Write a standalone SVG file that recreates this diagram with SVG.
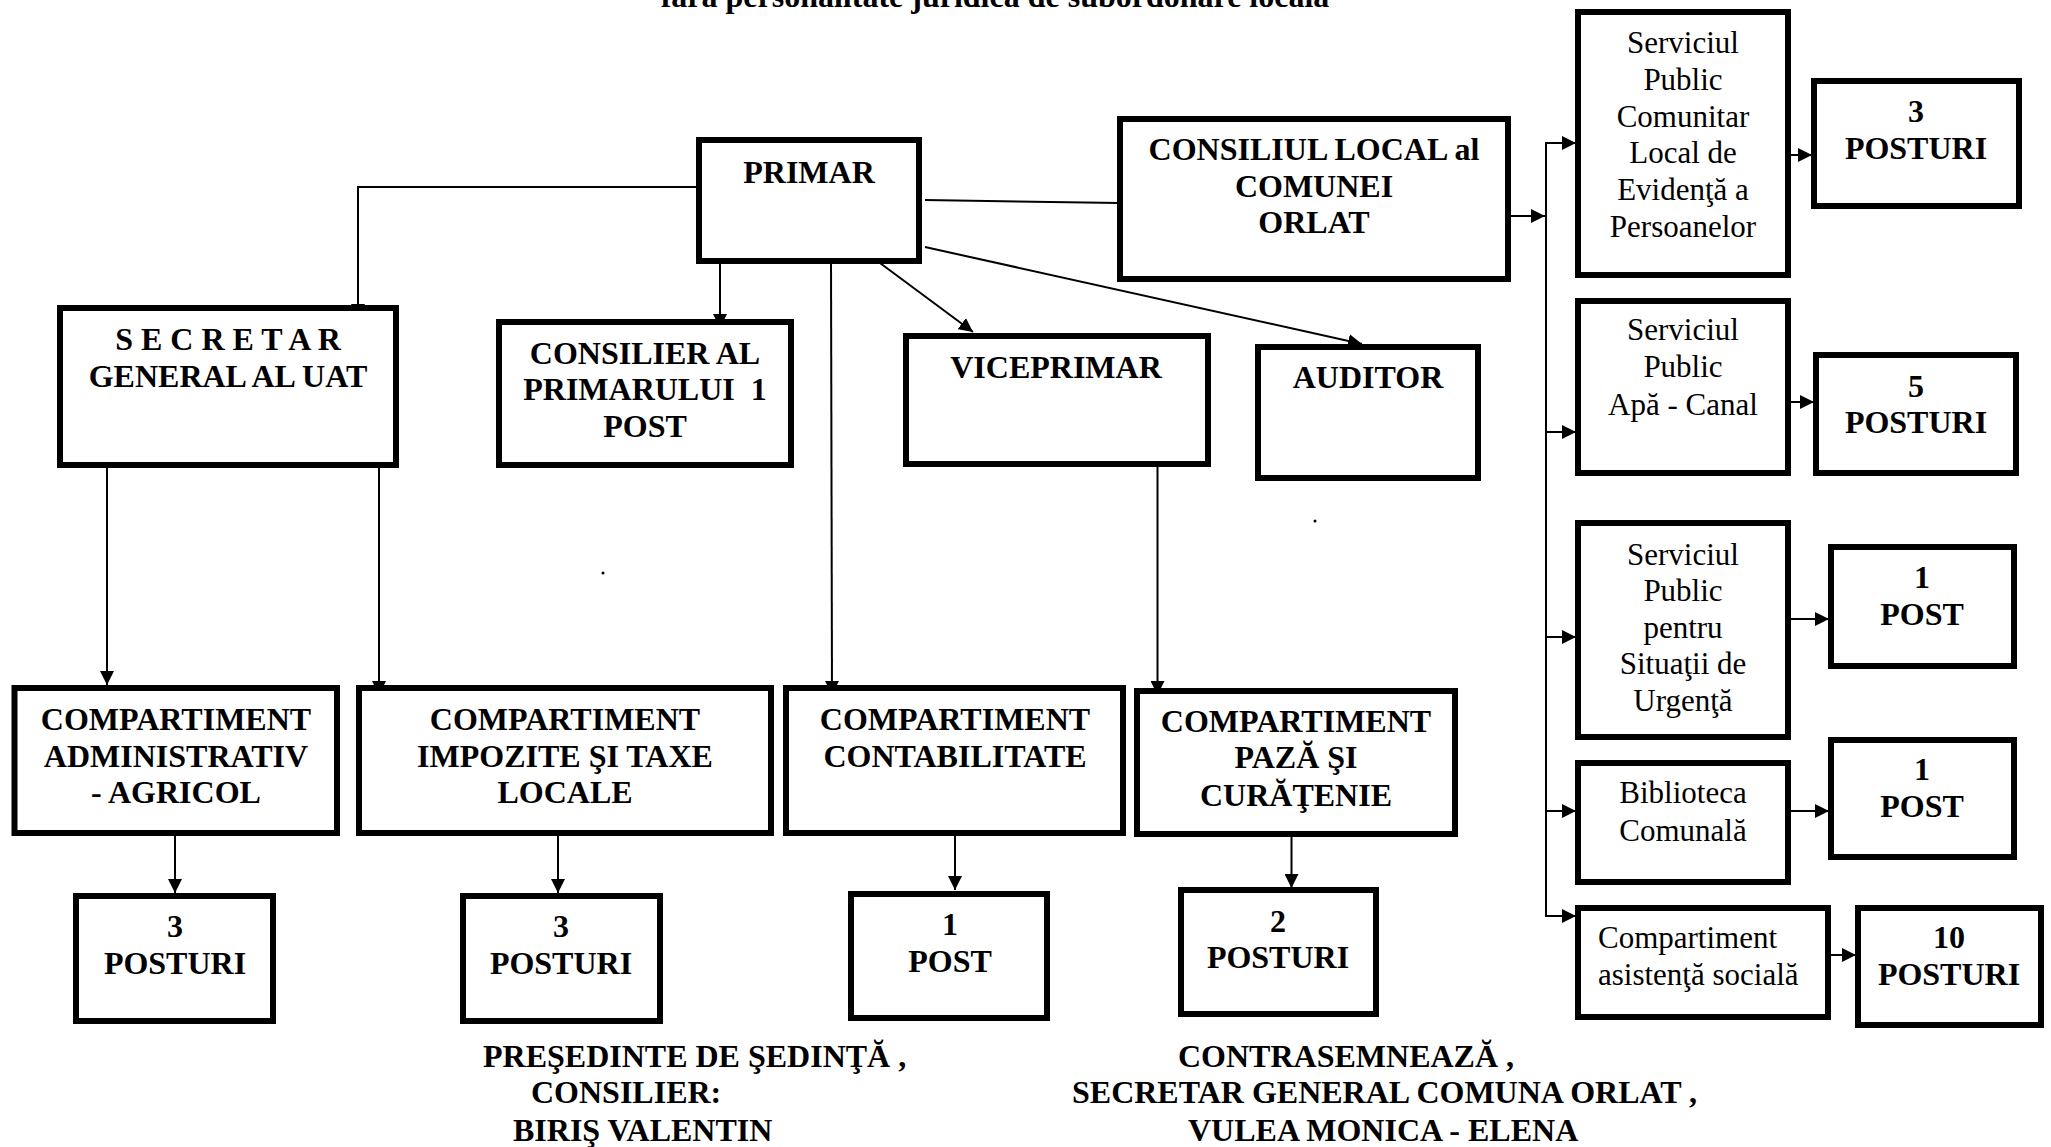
<svg xmlns="http://www.w3.org/2000/svg" width="2051" height="1147" viewBox="0 0 2051 1147">
<style>
  .box{fill:#fff;stroke:#000;stroke-width:6}
  .b{font-family:"Liberation Serif","Times New Roman",serif;font-weight:bold;font-size:32px;fill:#000;text-anchor:middle}
  .r{font-family:"Liberation Serif","Times New Roman",serif;font-size:31px;fill:#000;text-anchor:middle}
  .l{text-anchor:start}
  .c{fill:none;stroke:#000;stroke-width:2}
</style>
<defs>
  <marker id="ah" markerUnits="userSpaceOnUse" markerWidth="14" markerHeight="14" refX="14" refY="7" orient="auto">
    <path d="M0,0 L14,7 L0,14 z" fill="#000"/>
  </marker>
</defs>
<rect width="2051" height="1147" fill="#fff"/>
<text class="b" x="995" y="7">fără personalitate juridică de subordonare locală</text>

<g id="connectors">
  <path class="c" d="M696,187 H358 V318" marker-end="url(#ah)"/>
  <path class="c" d="M720,258 V328" marker-end="url(#ah)"/>
  <path class="c" d="M831,258 L832,695" marker-end="url(#ah)"/>
  <path class="c" d="M880,263 L973,332" marker-end="url(#ah)"/>
  <path class="c" d="M925,247 L1362,344" marker-end="url(#ah)"/>
  <path class="c" d="M925,200 L1119,203"/>
  <path class="c" d="M107,463 V685" marker-end="url(#ah)"/>
  <path class="c" d="M379,463 V695" marker-end="url(#ah)"/>
  <path class="c" d="M1157.5,467 V695" marker-end="url(#ah)"/>
  <path class="c" d="M175,835 V893" marker-end="url(#ah)"/>
  <path class="c" d="M558,835 V893" marker-end="url(#ah)"/>
  <path class="c" d="M955,835 V890" marker-end="url(#ah)"/>
  <path class="c" d="M1291.5,835 V888" marker-end="url(#ah)"/>
  <path class="c" d="M1511,216 H1545" marker-end="url(#ah)"/>
  <path class="c" d="M1546,142 V916 H1576" marker-end="url(#ah)"/>
  <path class="c" d="M1546,143 H1576" marker-end="url(#ah)"/>
  <path class="c" d="M1546,432 H1576" marker-end="url(#ah)"/>
  <path class="c" d="M1546,637 H1576" marker-end="url(#ah)"/>
  <path class="c" d="M1546,811 H1576" marker-end="url(#ah)"/>
  <path class="c" d="M1791,155 H1812" marker-end="url(#ah)"/>
  <path class="c" d="M1791,402 H1814" marker-end="url(#ah)"/>
  <path class="c" d="M1791,619 H1829" marker-end="url(#ah)"/>
  <path class="c" d="M1791,811 H1829" marker-end="url(#ah)"/>
  <path class="c" d="M1831,955 H1856" marker-end="url(#ah)"/>
</g>

<g id="primar"><rect class="box" x="699" y="140" width="220" height="121"/><text class="b" x="809" y="183">PRIMAR</text></g>
<g id="secretar"><rect class="box" x="60" y="308" width="336" height="157"/><text class="b" x="228" y="350">S E C R E T A R</text><text class="b" x="228" y="387">GENERAL AL UAT</text></g>
<g id="consilier"><rect class="box" x="499" y="322" width="292" height="143"/><text class="b" x="645" y="364">CONSILIER AL</text><text class="b" x="645" y="400" style="white-space:pre">PRIMARULUI  1</text><text class="b" x="645" y="437">POST</text></g>
<g id="viceprimar"><rect class="box" x="906" y="336" width="302" height="128"/><text class="b" x="1056" y="378">VICEPRIMAR</text></g>
<g id="auditor"><rect class="box" x="1258" y="347" width="220" height="131"/><text class="b" x="1368" y="388">AUDITOR</text></g>
<g id="consiliul-local"><rect class="box" x="1120" y="119" width="388" height="160"/><text class="b" x="1314" y="160">CONSILIUL LOCAL al</text><text class="b" x="1314" y="197">COMUNEI</text><text class="b" x="1314" y="233">ORLAT</text></g>

<g id="serv-evidenta"><rect class="box" x="1578" y="12" width="210" height="263"/><text class="r" x="1683" y="53">Serviciul</text><text class="r" x="1683" y="90">Public</text><text class="r" x="1683" y="127">Comunitar</text><text class="r" x="1683" y="163">Local de</text><text class="r" x="1683" y="200">Evidenţă a</text><text class="r" x="1683" y="237">Persoanelor</text></g>
<g id="post-evidenta"><rect class="box" x="1814" y="81" width="205" height="125"/><text class="b" x="1916" y="122">3</text><text class="b" x="1916" y="159">POSTURI</text></g>
<g id="serv-apa"><rect class="box" x="1578" y="301" width="210" height="172"/><text class="r" x="1683" y="340">Serviciul</text><text class="r" x="1683" y="377">Public</text><text class="r" x="1683" y="415">Apă - Canal</text></g>
<g id="post-apa"><rect class="box" x="1816" y="355" width="200" height="118"/><text class="b" x="1916" y="397">5</text><text class="b" x="1916" y="433">POSTURI</text></g>
<g id="serv-urgenta"><rect class="box" x="1578" y="523" width="210" height="214"/><text class="r" x="1683" y="565">Serviciul</text><text class="r" x="1683" y="601">Public</text><text class="r" x="1683" y="638">pentru</text><text class="r" x="1683" y="674">Situaţii de</text><text class="r" x="1683" y="711">Urgenţă</text></g>
<g id="post-urgenta"><rect class="box" x="1831" y="547" width="183" height="119"/><text class="b" x="1922" y="588">1</text><text class="b" x="1922" y="625">POST</text></g>
<g id="biblioteca"><rect class="box" x="1578" y="763" width="210" height="119"/><text class="r" x="1683" y="803">Biblioteca</text><text class="r" x="1683" y="841">Comunală</text></g>
<g id="post-biblioteca"><rect class="box" x="1831" y="740" width="183" height="117"/><text class="b" x="1922" y="780">1</text><text class="b" x="1922" y="817">POST</text></g>
<g id="asistenta"><rect class="box" x="1578" y="908" width="250" height="109"/><text class="r l" x="1598" y="948">Compartiment</text><text class="r l" x="1598" y="985">asistenţă socială</text></g>
<g id="post-asistenta"><rect class="box" x="1858" y="908" width="183" height="117"/><text class="b" x="1949" y="948">10</text><text class="b" x="1949" y="985">POSTURI</text></g>

<g id="comp-admin"><rect class="box" x="14.5" y="688" width="322.5" height="145"/><text class="b" x="176" y="730">COMPARTIMENT</text><text class="b" x="176" y="767">ADMINISTRATIV</text><text class="b" x="176" y="803">- AGRICOL</text></g>
<g id="comp-impozite"><rect class="box" x="359" y="688" width="412" height="145"/><text class="b" x="565" y="730">COMPARTIMENT</text><text class="b" x="565" y="767">IMPOZITE ŞI TAXE</text><text class="b" x="565" y="803">LOCALE</text></g>
<g id="comp-contab"><rect class="box" x="786" y="688" width="337" height="145"/><text class="b" x="955" y="730">COMPARTIMENT</text><text class="b" x="955" y="767">CONTABILITATE</text></g>
<g id="comp-paza"><rect class="box" x="1137" y="691" width="318" height="143"/><text class="b" x="1296" y="732">COMPARTIMENT</text><text class="b" x="1296" y="768">PAZĂ ŞI</text><text class="b" x="1296" y="806">CURĂŢENIE</text></g>

<g id="post-admin"><rect class="box" x="76" y="896" width="197" height="125"/><text class="b" x="175" y="937">3</text><text class="b" x="175" y="974">POSTURI</text></g>
<g id="post-impozite"><rect class="box" x="463" y="896" width="197" height="125"/><text class="b" x="561" y="937">3</text><text class="b" x="561" y="974">POSTURI</text></g>
<g id="post-contab"><rect class="box" x="851" y="894" width="196" height="124"/><text class="b" x="950" y="935">1</text><text class="b" x="950" y="972">POST</text></g>
<g id="post-paza"><rect class="box" x="1181" y="890" width="195" height="124"/><text class="b" x="1278" y="932">2</text><text class="b" x="1278" y="968">POSTURI</text></g>

<circle cx="603" cy="573" r="1.5" fill="#000"/>
<circle cx="1315" cy="521" r="1.5" fill="#000"/>

<g id="semnaturi">
  <text class="b l" x="483" y="1067">PREŞEDINTE DE ŞEDINŢĂ ,</text>
  <text class="b l" x="531" y="1103">CONSILIER:</text>
  <text class="b l" x="513" y="1141">BIRIŞ VALENTIN</text>
  <text class="b l" x="1178" y="1067">CONTRASEMNEAZĂ ,</text>
  <text class="b l" x="1072" y="1103">SECRETAR GENERAL COMUNA ORLAT ,</text>
  <text class="b l" x="1188" y="1141">VULEA MONICA - ELENA</text>
</g>
</svg>
